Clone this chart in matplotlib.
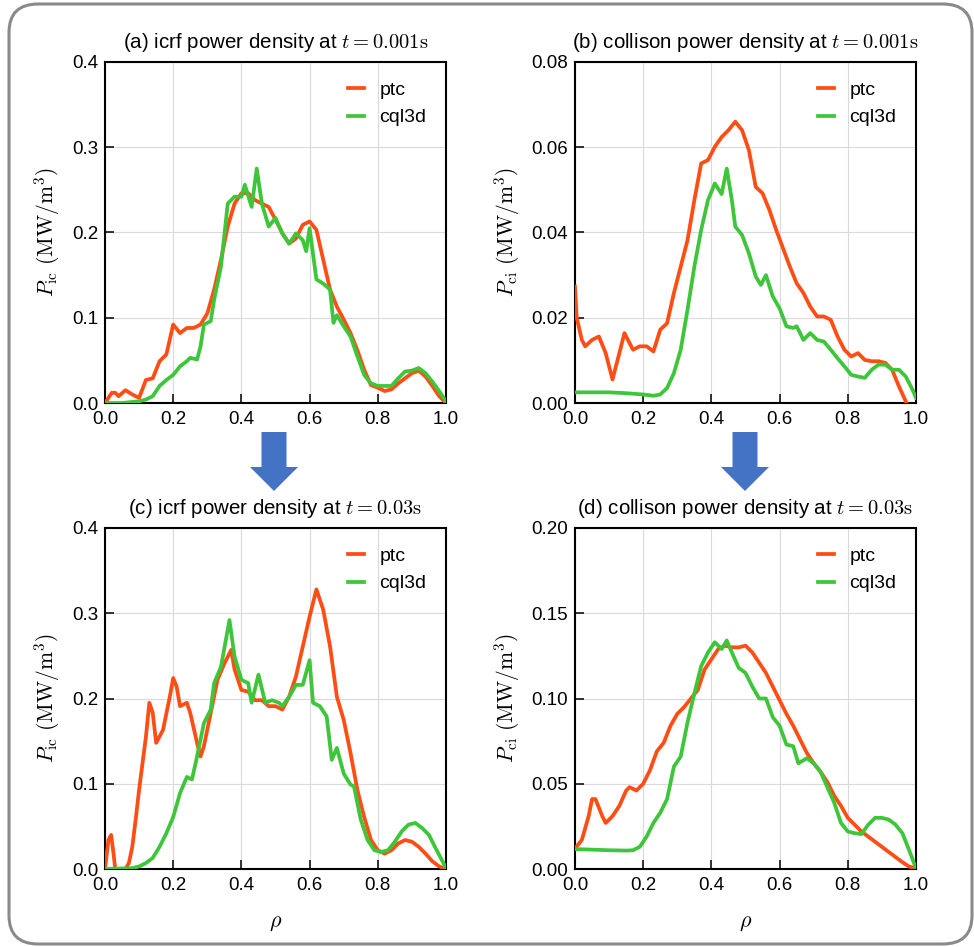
import numpy as np
import matplotlib
matplotlib.use("Agg")
import matplotlib.pyplot as plt
from matplotlib.patches import FancyBboxPatch, Polygon

plt.rcParams['font.family'] = ['Liberation Sans', 'DejaVu Sans']
plt.rcParams['mathtext.fontset'] = 'cm'

# (a) icrf power density, t = 0.001 s
rho_a_ptc = [0.00, 0.02, 0.03, 0.04, 0.06, 0.08, 0.10, 0.12, 0.14, 0.16, 0.18, 0.20, 0.22, 0.24,
             0.26, 0.28, 0.30, 0.32, 0.34, 0.36, 0.38, 0.40, 0.42, 0.44, 0.46, 0.48, 0.50, 0.52,
             0.54, 0.56, 0.58, 0.60, 0.62, 0.64, 0.66, 0.68, 0.70, 0.72, 0.74, 0.76, 0.78, 0.80,
             0.82, 0.84, 0.86, 0.88, 0.90, 0.92, 0.94, 0.96, 0.98, 1.00]
pic_a_ptc = [0.000, 0.012, 0.012, 0.008, 0.015, 0.010, 0.006, 0.027, 0.029, 0.049, 0.057, 0.092,
             0.082, 0.088, 0.088, 0.092, 0.105, 0.133, 0.168, 0.207, 0.234, 0.246, 0.246, 0.238,
             0.234, 0.230, 0.215, 0.199, 0.187, 0.193, 0.209, 0.213, 0.203, 0.168, 0.133, 0.113,
             0.098, 0.082, 0.062, 0.039, 0.021, 0.018, 0.014, 0.016, 0.023, 0.029, 0.035, 0.038,
             0.031, 0.020, 0.008, 0.000]
rho_a_cql = [0.00, 0.05, 0.10, 0.12, 0.14, 0.16, 0.18, 0.20, 0.22, 0.24, 0.25, 0.27, 0.28, 0.29,
             0.31, 0.32, 0.34, 0.36, 0.38, 0.40, 0.41, 0.43, 0.445, 0.46, 0.48, 0.50, 0.52, 0.54,
             0.56, 0.58, 0.59, 0.60, 0.62, 0.64, 0.66, 0.67, 0.68, 0.70, 0.72, 0.74, 0.76, 0.78,
             0.80, 0.82, 0.84, 0.86, 0.88, 0.90, 0.92, 0.94, 0.96, 0.98, 1.00]
pic_a_cql = [0.000, 0.000, 0.002, 0.004, 0.008, 0.020, 0.027, 0.033, 0.043, 0.049, 0.053, 0.051,
             0.066, 0.092, 0.096, 0.121, 0.160, 0.234, 0.242, 0.242, 0.256, 0.230, 0.275, 0.234,
             0.207, 0.217, 0.199, 0.187, 0.199, 0.191, 0.178, 0.205, 0.145, 0.140, 0.133, 0.094,
             0.103, 0.090, 0.078, 0.055, 0.033, 0.023, 0.020, 0.020, 0.020, 0.029, 0.037, 0.038,
             0.041, 0.035, 0.025, 0.014, 0.002]

# (b) collision power density, t = 0.001 s
rho_b_ptc = [0.00, 0.005, 0.02, 0.03, 0.05, 0.07, 0.09, 0.11, 0.13, 0.145, 0.17, 0.19, 0.21, 0.23,
             0.25, 0.27, 0.29, 0.31, 0.33, 0.35, 0.37, 0.39, 0.41, 0.43, 0.45, 0.47, 0.49, 0.51,
             0.53, 0.55, 0.57, 0.59, 0.61, 0.63, 0.65, 0.67, 0.69, 0.71, 0.73, 0.75, 0.77, 0.79,
             0.81, 0.83, 0.85, 0.87, 0.89, 0.91, 0.93, 0.95, 0.975]
pci_b_ptc = [0.0273, 0.0200, 0.0148, 0.0133, 0.0148, 0.0156, 0.0117, 0.0055, 0.0117, 0.0164,
             0.0125, 0.0133, 0.0133, 0.0121, 0.0172, 0.0187, 0.0258, 0.0320, 0.0382, 0.0476,
             0.0562, 0.0570, 0.0601, 0.0624, 0.0640, 0.0660, 0.0640, 0.0593, 0.0507, 0.0492,
             0.0453, 0.0406, 0.0363, 0.0320, 0.0281, 0.0258, 0.0226, 0.0203, 0.0203, 0.0195,
             0.0156, 0.0125, 0.0109, 0.0117, 0.0101, 0.0098, 0.0098, 0.0094, 0.0078, 0.0039,
             -0.0005]
rho_b_cql = [0.00, 0.10, 0.15, 0.20, 0.23, 0.25, 0.27, 0.29, 0.31, 0.33, 0.35, 0.37, 0.39, 0.41,
             0.43, 0.445, 0.46, 0.47, 0.49, 0.51, 0.53, 0.545, 0.56, 0.58, 0.60, 0.62, 0.64, 0.65,
             0.67, 0.69, 0.71, 0.73, 0.75, 0.77, 0.79, 0.81, 0.83, 0.85, 0.87, 0.89, 0.91, 0.93,
             0.95, 0.97, 0.99, 1.00]
pci_b_cql = [0.0025, 0.0025, 0.0023, 0.0020, 0.0017, 0.0020, 0.0035, 0.0070, 0.0125, 0.0219,
             0.0320, 0.0406, 0.0476, 0.0515, 0.0490, 0.0550, 0.0476, 0.0414, 0.0394, 0.0351,
             0.0297, 0.0277, 0.0300, 0.0250, 0.0222, 0.0180, 0.0176, 0.0180, 0.0148, 0.0164,
             0.0148, 0.0144, 0.0125, 0.0105, 0.0086, 0.0066, 0.0062, 0.0059, 0.0078, 0.0090,
             0.0090, 0.0078, 0.0078, 0.0062, 0.0031, 0.0012]

# (c) icrf power density, t = 0.03 s
rho_c_ptc = [0.00, 0.01, 0.018, 0.025, 0.03, 0.06, 0.07, 0.08, 0.09, 0.10, 0.12, 0.13, 0.14, 0.15,
             0.17, 0.19, 0.20, 0.21, 0.22, 0.24, 0.25, 0.27, 0.28, 0.29, 0.31, 0.33, 0.35, 0.37,
             0.38, 0.40, 0.42, 0.44, 0.46, 0.48, 0.50, 0.52, 0.54, 0.56, 0.58, 0.60, 0.62, 0.64,
             0.66, 0.68, 0.70, 0.72, 0.74, 0.76, 0.78, 0.80, 0.82, 0.84, 0.86, 0.88, 0.90, 0.92,
             0.94, 0.96, 0.98, 1.00]
pic_c_ptc = [0.000, 0.034, 0.040, 0.018, 0.000, 0.000, 0.007, 0.026, 0.058, 0.093, 0.155, 0.195,
             0.183, 0.148, 0.163, 0.202, 0.224, 0.214, 0.191, 0.195, 0.183, 0.148, 0.132, 0.144,
             0.183, 0.222, 0.241, 0.257, 0.234, 0.210, 0.208, 0.198, 0.198, 0.191, 0.191, 0.187,
             0.202, 0.226, 0.261, 0.296, 0.328, 0.304, 0.261, 0.202, 0.175, 0.136, 0.093, 0.061,
             0.034, 0.022, 0.018, 0.022, 0.030, 0.034, 0.032, 0.026, 0.018, 0.009, 0.003, 0.000]
rho_c_cql = [0.00, 0.08, 0.10, 0.12, 0.14, 0.16, 0.18, 0.20, 0.22, 0.24, 0.255, 0.27, 0.29, 0.31,
             0.32, 0.34, 0.365, 0.38, 0.40, 0.42, 0.43, 0.45, 0.47, 0.49, 0.51, 0.52, 0.54, 0.56,
             0.58, 0.60, 0.61, 0.63, 0.65, 0.665, 0.68, 0.70, 0.72, 0.73, 0.75, 0.77, 0.79, 0.81,
             0.83, 0.85, 0.87, 0.89, 0.91, 0.93, 0.95, 0.97, 0.99, 1.00]
pic_c_cql = [0.000, 0.001, 0.003, 0.007, 0.013, 0.026, 0.042, 0.061, 0.089, 0.108, 0.105, 0.132,
             0.171, 0.187, 0.218, 0.237, 0.292, 0.249, 0.222, 0.218, 0.195, 0.228, 0.195, 0.198,
             0.195, 0.191, 0.202, 0.216, 0.216, 0.245, 0.195, 0.191, 0.179, 0.128, 0.142, 0.112,
             0.099, 0.097, 0.058, 0.034, 0.022, 0.020, 0.022, 0.032, 0.044, 0.052, 0.054, 0.048,
             0.040, 0.024, 0.009, 0.001]

# (d) collision power density, t = 0.03 s
rho_d_ptc = [0.00, 0.02, 0.04, 0.05, 0.06, 0.08, 0.09, 0.11, 0.13, 0.15, 0.16, 0.18, 0.20, 0.22,
             0.24, 0.26, 0.28, 0.30, 0.32, 0.34, 0.36, 0.38, 0.40, 0.42, 0.44, 0.46, 0.48, 0.50,
             0.52, 0.54, 0.56, 0.58, 0.60, 0.62, 0.64, 0.66, 0.68, 0.70, 0.72, 0.74, 0.76, 0.78,
             0.80, 0.82, 0.84, 0.86, 0.88, 0.90, 0.92, 0.94, 0.96, 0.98, 1.00]
pci_d_ptc = [0.012, 0.017, 0.031, 0.041, 0.041, 0.031, 0.027, 0.031, 0.037, 0.046, 0.048, 0.046,
             0.050, 0.058, 0.069, 0.074, 0.084, 0.091, 0.095, 0.100, 0.105, 0.117, 0.123, 0.129,
             0.131, 0.130, 0.130, 0.131, 0.127, 0.121, 0.115, 0.107, 0.099, 0.091, 0.084, 0.076,
             0.068, 0.062, 0.057, 0.051, 0.043, 0.037, 0.030, 0.026, 0.022, 0.019, 0.016, 0.013,
             0.010, 0.007, 0.004, 0.0014, 0.0004]
rho_d_cql = [0.00, 0.10, 0.15, 0.17, 0.19, 0.21, 0.23, 0.25, 0.27, 0.29, 0.31, 0.33, 0.35, 0.37,
             0.39, 0.41, 0.43, 0.445, 0.46, 0.48, 0.50, 0.52, 0.54, 0.56, 0.58, 0.60, 0.62, 0.64,
             0.655, 0.68, 0.70, 0.72, 0.74, 0.76, 0.78, 0.80, 0.82, 0.84, 0.86, 0.88, 0.90, 0.92,
             0.94, 0.96, 0.98, 1.00]
pci_d_cql = [0.0117, 0.0110, 0.0108, 0.0110, 0.0130, 0.0190, 0.0270, 0.0330, 0.0410, 0.0600,
             0.0660, 0.0860, 0.1030, 0.1190, 0.1270, 0.1330, 0.1290, 0.1340, 0.1270, 0.1180,
             0.1150, 0.1070, 0.1000, 0.1000, 0.0890, 0.0840, 0.0730, 0.0720, 0.0620, 0.0650,
             0.0620, 0.0570, 0.0480, 0.0390, 0.0270, 0.0220, 0.0210, 0.0205, 0.0260, 0.0300,
             0.0300, 0.0290, 0.0260, 0.0210, 0.0110, 0.0004]

titles = [r"(a) icrf power density at $t = 0.001\mathrm{s}$",
          r"(b) collison power density at $t = 0.001\mathrm{s}$",
          r"(c) icrf power density at $t = 0.03\mathrm{s}$",
          r"(d) collison power density at $t = 0.03\mathrm{s}$"]
ylabels = [r"$P_{\rm ic}\ (\rm MW/m^3)$", r"$P_{\rm ci}\ (\rm MW/m^3)$",
           r"$P_{\rm ic}\ (\rm MW/m^3)$", r"$P_{\rm ci}\ (\rm MW/m^3)$"]
ymax = [0.4, 0.08, 0.4, 0.20]
yticks = [[0.0, 0.1, 0.2, 0.3, 0.4], [0.0, 0.02, 0.04, 0.06, 0.08],
          [0.0, 0.1, 0.2, 0.3, 0.4], [0.0, 0.05, 0.10, 0.15, 0.20]]
yfmt = ["%.1f", "%.2f", "%.1f", "%.2f"]
xticks = [0.0, 0.2, 0.4, 0.6, 0.8, 1.0]
curves = [(rho_a_ptc, pic_a_ptc, rho_a_cql, pic_a_cql),
          (rho_b_ptc, pci_b_ptc, rho_b_cql, pci_b_cql),
          (rho_c_ptc, pic_c_ptc, rho_c_cql, pic_c_cql),
          (rho_d_ptc, pci_d_ptc, rho_d_cql, pci_d_cql)]

c_ptc = "#ff4d14"
c_cql = "#3ec63a"

fig = plt.figure(figsize=(9.74, 9.47), dpi=100)

# rounded frame around everything
frame = FancyBboxPatch((9/974, 3/947), 963/974, 940/947,
                       boxstyle="round,pad=0,rounding_size=0.03",
                       transform=fig.transFigure, fill=False,
                       edgecolor="#8a8a8a", linewidth=2.2, zorder=0)
fig.patches.append(frame)

boxes = [(105, 62), (575, 62), (105, 528), (575, 528)]
for i, (px, py) in enumerate(boxes):
    ax = fig.add_axes([px/974, 1 - (py + 341)/947, 341/974, 341/947])
    x1, y1, x2, y2 = curves[i]
    ax.plot(x1, y1, color=c_ptc, lw=2.7, label="ptc", zorder=3)
    ax.plot(x2, y2, color=c_cql, lw=2.7, label="cql3d", zorder=4)
    ax.set_xlim(0, 1)
    ax.set_ylim(0, ymax[i])
    ax.set_xticks(xticks)
    ax.set_xticklabels(["%.1f" % v for v in xticks])
    ax.set_yticks(yticks[i])
    ax.set_yticklabels([yfmt[i] % v for v in yticks[i]])
    ax.grid(True, color="#dadada", lw=0.8)
    ax.set_axisbelow(True)
    ax.tick_params(direction="in", length=6.5, width=1.1, labelsize=13.5)
    ax.tick_params(axis="x", pad=6)
    ax.tick_params(axis="y", pad=5)
    for s in ax.spines.values():
        s.set_linewidth(1.5)
    ax.set_title(titles[i], fontsize=14.8, pad=10)
    ax.set_ylabel(ylabels[i], fontsize=15.5, labelpad=7)
    if i >= 2:
        ax.set_xlabel(r"$\rho$", fontsize=16, labelpad=13)
    ax.legend(loc="upper right", frameon=False, fontsize=14, handlelength=0.8,
              handletextpad=0.8, labelspacing=0.5, borderaxespad=0.6,
              bbox_to_anchor=(1.0, 1.0))

# down arrows between the rows
for cx in [274, 745]:
    pts = [(cx - 12.5, 432), (cx + 12.5, 432), (cx + 12.5, 467), (cx + 24, 467),
           (cx, 491), (cx - 24, 467), (cx - 12.5, 467)]
    arrow = Polygon([(x/974, 1 - y/947) for x, y in pts], closed=True,
                    transform=fig.transFigure, facecolor="#4472c4", edgecolor="none")
    fig.patches.append(arrow)

fig.savefig("out.png", dpi=100)
